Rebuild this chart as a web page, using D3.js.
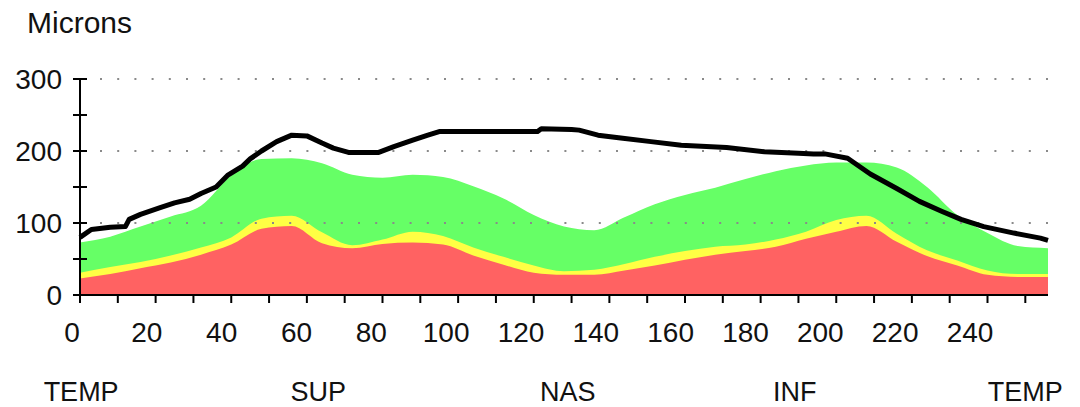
<!DOCTYPE html>
<html>
<head>
<meta charset="utf-8">
<script src="https://cdn.jsdelivr.net/npm/d3@7"></script>
<style>
  html, body { margin: 0; padding: 0; background: #ffffff; }
  svg { display: block; }
  text { font-family: "Liberation Sans", Arial, sans-serif; fill: #111; }
</style>
</head>
<body>
<svg id="chart" width="1080" height="407"></svg>
<script>
// ---- data ----
const positions = [0, 8, 16, 24, 32, 40, 48, 56, 64, 72, 80, 88, 96, 104, 112, 120, 128, 136, 144, 152, 160, 168, 176, 184, 192, 200, 208, 216, 224, 232, 240, 248, 256];
const normalTop = [73, 81, 95, 109, 124, 166, 189, 190, 183, 167, 163, 167, 164, 151, 134, 111, 95, 90, 108, 126, 139, 149, 161, 172, 180, 184, 184, 177, 150, 111, 86, 68, 65];
const borderlineTop = [31, 39, 46, 55, 66, 80, 106, 110, 87, 69, 77, 88, 82, 66, 53, 41, 33, 35, 43, 53, 61, 67, 70, 77, 88, 104, 110, 85, 62, 48, 34, 29, 29];
const outsideTop = [23, 29, 37, 45, 56, 70, 92, 96, 72, 65, 71, 73, 70, 55, 42, 31, 28, 28, 34, 41, 49, 56, 61, 67, 78, 88, 96, 74, 54, 41, 28, 25, 25];

const patientX = [0, 3, 8, 12, 13, 16, 21, 25, 29, 32, 36, 39, 43, 45, 48, 52, 56, 60, 64, 67, 71, 79, 83, 88, 92, 95, 121, 122, 130, 132, 137, 143, 151, 159, 171, 181, 190, 194, 197, 203, 209, 216, 222, 228, 233, 239, 247, 254, 256];
const patientY = [80, 91, 94, 95, 105, 112, 121, 128, 133, 141, 150, 166, 179, 189, 200, 213, 222, 221, 211, 204, 198, 198, 206, 215, 222, 227, 227, 231, 230, 229, 222, 218, 213, 208, 205, 199, 197, 196, 196, 190, 168, 148, 130, 116, 105, 95, 86, 79, 76];

const xTicks = [0, 20, 40, 60, 80, 100, 120, 140, 160, 180, 200, 220, 240];
const yTicks = [0, 100, 200, 300];
const sectorNames = ["TEMP", "SUP", "NAS", "INF", "TEMP"];
const sectorAt = [0.3, 63, 129, 189, 250];
const yTitle = "Microns";

// ---- layout ----
const svg = d3.select("#chart");
const x = d3.scaleLinear().domain([0, 256]).range([80, 1048]);
const y = d3.scaleLinear().domain([0, 300]).range([295, 79]);
const xLabel = d3.scaleLinear().domain([0, 240]).range([72, 970]);

const bandData = positions.map((p, i) => ({ p, g: normalTop[i], yl: borderlineTop[i], r: outsideTop[i] }));
const area = key => d3.area().x(d => x(d.p)).y0(y(0)).y1(d => y(d[key])).curve(d3.curveMonotoneX);

svg.append("path").datum(bandData).attr("d", area("g")).attr("fill", "#66ff66");
svg.append("path").datum(bandData).attr("d", area("yl")).attr("fill", "#ffff44");
svg.append("path").datum(bandData).attr("d", area("r")).attr("fill", "#ff6262");

// dotted grid
svg.append("g").selectAll("line").data(yTicks.filter(t => t > 0)).join("line")
  .attr("x1", 100).attr("x2", x(256))
  .attr("y1", d => y(d)).attr("y2", d => y(d))
  .attr("stroke", "#8a8a8a").attr("stroke-width", 2)
  .attr("stroke-dasharray", "2,15.2");

// patient line
const pts = patientX.map((px, i) => [px, patientY[i]]);
svg.append("path").datum(pts)
  .attr("d", d3.line().x(d => x(d[0])).y(d => y(d[1])))
  .attr("fill", "none").attr("stroke", "#000").attr("stroke-width", 5)
  .attr("stroke-linejoin", "round");

// y axis
const yAxis = svg.append("g");
yAxis.append("line").attr("x1", x(0)).attr("x2", x(0)).attr("y1", y(300)).attr("y2", y(0))
  .attr("stroke", "#000").attr("stroke-width", 2);
yAxis.selectAll("line.t").data(d3.range(0, 301, 50)).join("line").attr("class", "t")
  .attr("x1", x(0) - 7).attr("x2", x(0) + 7)
  .attr("y1", d => y(d)).attr("y2", d => y(d))
  .attr("stroke", "#000").attr("stroke-width", 2);
yAxis.selectAll("text").data(yTicks).join("text")
  .attr("x", 62).attr("y", d => y(d)).attr("dy", "0.35em")
  .attr("text-anchor", "end").attr("font-size", 28)
  .text(d => d);

// x axis
const xAxis = svg.append("g");
xAxis.append("line").attr("x1", x(0)).attr("x2", x(256)).attr("y1", y(0)).attr("y2", y(0))
  .attr("stroke", "#000").attr("stroke-width", 2);
xAxis.selectAll("line.t").data(d3.range(0, 251, 10)).join("line").attr("class", "t")
  .attr("x1", d => x(d)).attr("x2", d => x(d))
  .attr("y1", y(0)).attr("y2", y(0) + 8)
  .attr("stroke", "#000").attr("stroke-width", 2);
xAxis.selectAll("text").data(xTicks).join("text")
  .attr("x", d => xLabel(d)).attr("y", 342)
  .attr("text-anchor", "middle").attr("font-size", 28)
  .text(d => d);

// sector labels
svg.append("g").selectAll("text").data(sectorNames).join("text")
  .attr("x", (d, i) => x(sectorAt[i])).attr("y", 401)
  .attr("text-anchor", "middle").attr("font-size", 27)
  .text(d => d);

// title
svg.append("text").attr("x", 27).attr("y", 33).attr("font-size", 30).text(yTitle);
</script>
</body>
</html>
